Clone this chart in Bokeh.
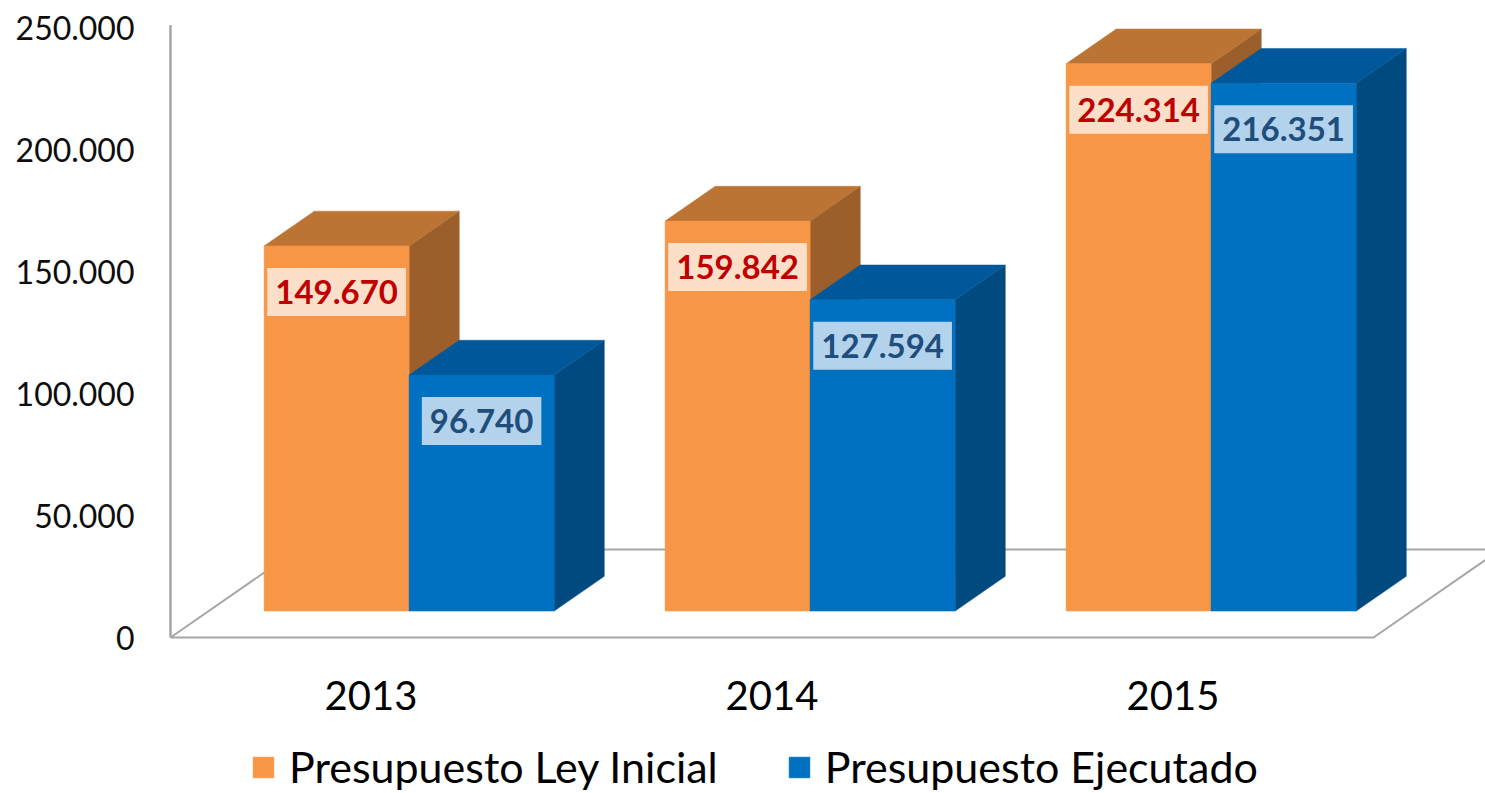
from bokeh.plotting import figure
from bokeh.models import Range1d, FixedTicker, Legend, LegendItem
from bokeh.core.properties import value
from bokeh.embed import file_html
from bokeh.resources import INLINE

# ---------------- data ----------------
years = ["2013", "2014", "2015"]
ley_inicial = [149670, 159842, 224314]
ejecutado = [96740, 127594, 216351]
series_names = ["Presupuesto Ley Inicial", "Presupuesto Ejecutado"]
y_ticks = [0, 50000, 100000, 150000, 200000, 250000]
y_tick_labels = ["0", "50.000", "100.000", "150.000", "200.000", "250.000"]

# ---------------- styles ----------------
ORANGE = ("#F79646", "#BC7435", "#9C5F2C")   # front, top, side
BLUE = ("#0070C0", "#00589A", "#004A80")
LABEL_BOX = ("#FCDFC8", "#B3D3EC")
LABEL_TXT = ("#C00000", "#1F4E7D")
GREY = "#A6A6A6"
FONT = "Lato"

# ---------------- geometry (pixel scale helpers) ----------------
W, H = 1485, 793
MIN_LEFT = 168
PX_CAT = 401.0            # px per category along the floor front
PX_VAL = 2.44 / 1000.0    # px per value unit
ZERO_Y = 637              # px from figure top to value 0
AXIS_X = 170              # px from figure left to the wall line
x_start = -(AXIS_X - MIN_LEFT) / PX_CAT
x_end = (W - AXIS_X) / PX_CAT
y_end = ZERO_Y / PX_VAL
y_start = -(H - ZERO_Y) / PX_VAL

DEPTH_X = 127 / PX_CAT    # full floor depth, x units
DEPTH_Y = 88 / PX_VAL     # full floor depth, value units
FRONT, BACK = 0.30, 0.695
BAR_W = 145 / PX_CAT
LABEL_OFF = 46 / PX_VAL

p = figure(width=W, height=H, output_backend="svg", toolbar_location=None,
           x_range=Range1d(x_start, x_end), y_range=Range1d(y_start, y_end),
           x_axis_location=None, min_border_left=MIN_LEFT, min_border_right=0,
           min_border_top=0, min_border_bottom=0)
p.outline_line_color = None
p.grid.visible = False
p.background_fill_color = "white"
p.border_fill_color = "white"

ax = p.yaxis[0]
ax.ticker = FixedTicker(ticks=y_ticks)
ax.major_label_overrides = {t: l for t, l in zip(y_ticks, y_tick_labels)}
ax.axis_line_color = None
ax.major_tick_line_color = None
ax.minor_tick_line_color = None
ax.major_tick_out = 0
ax.major_label_standoff = 34
ax.major_label_text_font = FONT
ax.major_label_text_font_size = "32px"
ax.major_label_text_color = "#0D0D0D"

n = len(years)
# floor outline
fx = [0, n, n + DEPTH_X, DEPTH_X, 0]
fy = [0, 0, DEPTH_Y, DEPTH_Y, 0]
p.line(fx, fy, line_color=GREY, line_width=2)
# wall line
p.segment(x0=[0], y0=[0], x1=[0], y1=[y_ticks[-1] + 1000], line_color=GREY, line_width=2.5)

ddx = (BACK - FRONT) * DEPTH_X
ddy = (BACK - FRONT) * DEPTH_Y
b0 = FRONT * DEPTH_Y

front_renderers = []
for s, (vals, cols) in enumerate([(ley_inicial, ORANGE), (ejecutado, BLUE)]):
    fr_x, fr_y, tp_x, tp_y, sd_x, sd_y = [], [], [], [], [], []
    for i, v in enumerate(vals):
        c = i + 0.5 + FRONT * DEPTH_X
        x0 = c - BAR_W if s == 0 else c
        x1 = x0 + BAR_W
        top = b0 + v
        fr_x.append([x0, x1, x1, x0]); fr_y.append([b0, b0, top, top])
        tp_x.append([x0, x1, x1 + ddx, x0 + ddx]); tp_y.append([top, top, top + ddy, top + ddy])
        sd_x.append([x1, x1 + ddx, x1 + ddx, x1]); sd_y.append([b0, b0 + ddy, top + ddy, top])
    p.patches(sd_x, sd_y, fill_color=cols[2], line_color=cols[2], line_width=0.5)
    p.patches(tp_x, tp_y, fill_color=cols[1], line_color=cols[1], line_width=0.5)
    r = p.patches(fr_x, fr_y, fill_color=cols[0], line_color=cols[0], line_width=0.5)
    front_renderers.append(r)

# data labels
for s, vals in enumerate([ley_inicial, ejecutado]):
    lx, ly, lt = [], [], []
    for i, v in enumerate(vals):
        c = i + 0.5 + FRONT * DEPTH_X
        lx.append(c - BAR_W / 2 if s == 0 else c + BAR_W / 2)
        ly.append(b0 + v - LABEL_OFF)
        lt.append(f"{v:,}".replace(",", "."))
    p.text(lx, ly, text=lt, text_align="center", text_baseline="middle",
           text_font=value(FONT), text_font_style="bold", text_font_size="33px",
           text_color=LABEL_TXT[s], background_fill_color=LABEL_BOX[s],
           padding=[8, 12])

# category labels
p.text([i + 0.5 for i in range(n)], [-58 / PX_VAL] * n, text=years,
       text_align="center", text_baseline="middle", text_font=value(FONT),
       text_font_size="40px", text_color="#000000")

legend = Legend(items=[LegendItem(label=series_names[k], renderers=[front_renderers[k]]) for k in range(2)],
                orientation="horizontal", location=(82, 1), padding=0, margin=0,
                spacing=68, label_standoff=13, glyph_width=26, glyph_height=26,
                label_text_font=FONT, label_text_font_size="43px", label_text_color="#000000",
                border_line_color=None, background_fill_alpha=0)
p.add_layout(legend)

open("out.html", "w").write(file_html(p, INLINE))
